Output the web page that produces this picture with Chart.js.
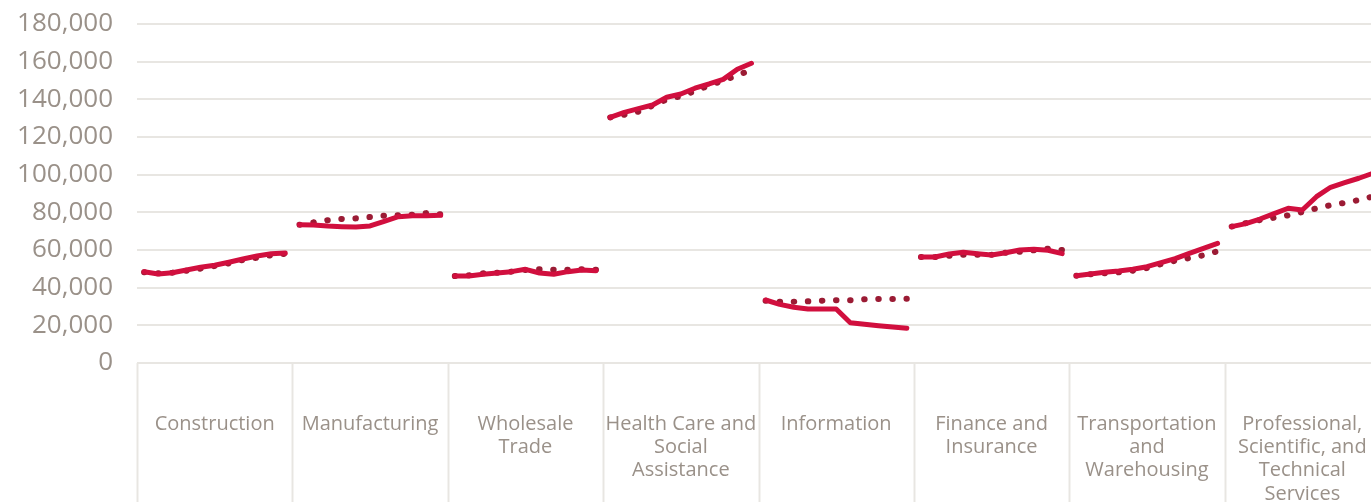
<!DOCTYPE html>
<html>
<head>
<meta charset="utf-8">
<script src="https://cdn.jsdelivr.net/npm/chart.js@4.4.1/dist/chart.umd.min.js"></script>
<style>
html, body { margin: 0; padding: 0; background: #fff; overflow: hidden; }
#wrap { width: 1371px; height: 502px; overflow: hidden; }
</style>
</head>
<body>
<div id="wrap"><canvas id="myChart" width="1380" height="502"></canvas></div>
<script>
// industries along the x axis, each one has 11 yearly points
const categories = [
  ['Construction'],
  ['Manufacturing'],
  ['Wholesale', 'Trade'],
  ['Health Care and', 'Social', 'Assistance'],
  ['Information'],
  ['Finance and', 'Insurance'],
  ['Transportation', 'and', 'Warehousing'],
  ['Professional,', 'Scientific, and', 'Technical', 'Services']
];
const pointsPerGroup = 11;

// solid line values, one row per industry
const solidSeries = [
  [48500, 47300, 47950, 49400, 50800, 51900, 53500, 55200, 56800, 58000, 58400],
  [73400, 73300, 72750, 72400, 72200, 72750, 75250, 77700, 78200, 78200, 78400],
  [46200, 46200, 47100, 47800, 48500, 49750, 47800, 47100, 48500, 49400, 49000],
  [130450, 133100, 135050, 137000, 141100, 142800, 145900, 148150, 150600, 155950, 159150],
  [33450, 31150, 29600, 28700, 28700, 28700, 21400, 20550, 19800, 19100, 18400],
  [56300, 56300, 57900, 58800, 58050, 57350, 58550, 60000, 60400, 59850, 58050],
  [46350, 47250, 48150, 48850, 49750, 51150, 53250, 55400, 58250, 60900, 63550],
  [72400, 74000, 76450, 79300, 82150, 81250, 88300, 93300, 95750, 98100, 100750]
];

// dotted line values
const dottedSeries = [
  [48150, 47600, 47950, 49000, 50100, 51500, 52900, 54700, 55900, 57200, 58000],
  [73400, 74700, 75800, 76500, 76800, 77500, 78200, 78400, 78700, 79600, 79000],
  [46200, 46550, 47600, 47950, 48500, 49400, 49750, 49550, 49550, 49750, 49500],
  [130350, 131800, 133450, 136600, 139900, 141700, 144400, 147350, 149950, 152800, 155600],
  [33100, 32550, 32550, 32750, 33100, 33300, 33300, 33800, 34000, 34000, 34100],
  [56300, 56300, 56950, 57500, 57500, 57500, 58550, 59100, 59850, 60700, 60000],
  [46350, 47100, 47650, 48150, 49000, 50450, 52550, 54300, 55750, 57200, 59300],
  [72450, 74250, 75900, 77150, 78400, 80200, 82100, 83800, 85050, 86550, 88400]
];

const yMin = 0;
const yMax = 180000;
const yStep = 20000;

const textColor = '#9a9189';
const gridColor = '#e8e6e2';

let labels = [];
categories.forEach((c, i) => {
  for (let k = 0; k < pointsPerGroup; k++) labels.push(c.join(' ') + ' ' + k);
});

// no line between the last point of one industry and the first of the next
function breakGroups(ctx) {
  return (ctx.p0DataIndex % pointsPerGroup === pointsPerGroup - 1) ? 'rgba(0,0,0,0)' : undefined;
}

const groupLabels = {
  id: 'groupLabels',
  afterDraw(chart) {
    const ctx = chart.ctx;
    const area = chart.chartArea;
    const w = area.width / categories.length;
    ctx.save();
    ctx.strokeStyle = gridColor;
    ctx.lineWidth = 2;
    for (let i = 0; i <= categories.length; i++) {
      let x = Math.round(area.left + i * w) + 0.5;
      ctx.beginPath();
      ctx.moveTo(x, area.bottom);
      ctx.lineTo(x, chart.height);
      ctx.stroke();
    }
    ctx.fillStyle = textColor;
    ctx.font = '20px "Open Sans"';
    ctx.textAlign = 'center';
    ctx.textBaseline = 'middle';
    categories.forEach((lines, i) => {
      let cx = area.left + (i + 0.5) * w;
      lines.forEach((line, j) => {
        ctx.fillText(line, cx, 424 + j * 23.3);
      });
    });
    ctx.restore();
  }
};

var ctx = document.getElementById('myChart').getContext('2d');
var myChart = new Chart(ctx, {
  type: 'line',
  data: {
    labels: labels,
    datasets: [{
      label: 'Solid',
      data: solidSeries.flat(),
      borderColor: '#d10f3e',
      borderWidth: 5,
      borderCapStyle: 'round',
      borderJoinStyle: 'round',
      pointRadius: 0,
      tension: 0,
      order: 0,
      segment: { borderColor: breakGroups }
    }, {
      label: 'Dotted',
      data: dottedSeries.flat(),
      borderColor: '#9b1b34',
      borderWidth: 6,
      borderDash: [0.5, 13.6],
      borderCapStyle: 'round',
      pointRadius: 0,
      tension: 0,
      order: 1,
      segment: { borderColor: breakGroups }
    }]
  },
  options: {
    responsive: false,
    animation: false,
    layout: { padding: { left: 0, right: 0, top: 24, bottom: 139 } },
    plugins: {
      legend: { display: false },
      tooltip: { enabled: false }
    },
    scales: {
      x: {
        display: false,
        offset: true
      },
      y: {
        min: yMin,
        max: yMax,
        afterFit: function (scale) { scale.width = 137; },
        border: { display: false },
        // invisible tick marks keep the labels 24px off the plot
        grid: { color: gridColor, lineWidth: 2, drawTicks: true, tickLength: 24, tickColor: 'rgba(0,0,0,0)' },
        ticks: {
          stepSize: yStep,
          padding: 0,
          color: textColor,
          font: { family: 'Open Sans', size: 26 },
          callback: v => v.toLocaleString('en-US')
        }
      }
    }
  },
  plugins: [groupLabels]
});
</script>
</body>
</html>
